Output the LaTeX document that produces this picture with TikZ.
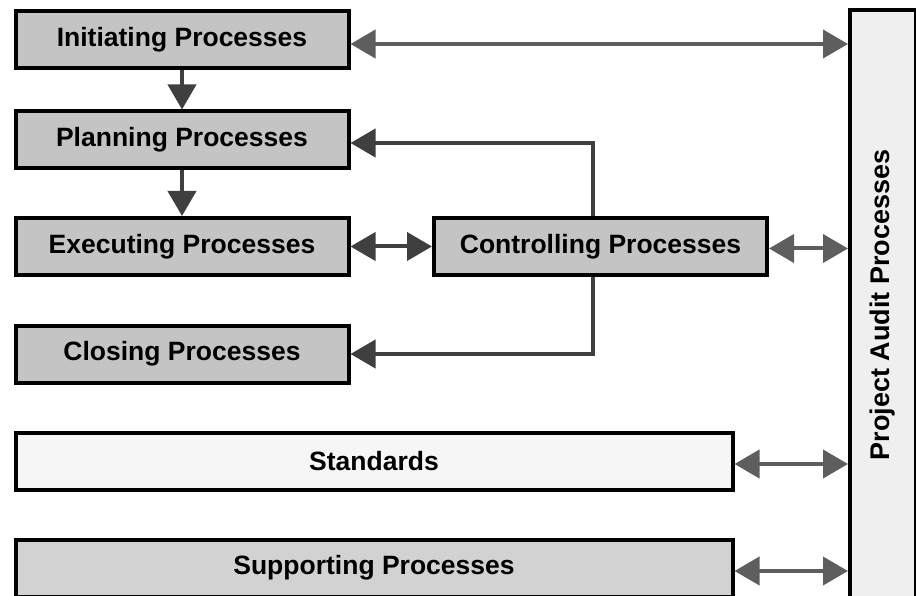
\documentclass[tikz,border=0pt]{standalone}
\usepackage{fontspec}
\setmainfont{Liberation Sans}
\usetikzlibrary{arrows.meta}
\definecolor{boxgray}{HTML}{C4C4C4}
\definecolor{supgray}{HTML}{D2D2D2}
\definecolor{stdfill}{HTML}{F6F6F6}
\definecolor{auditfill}{HTML}{EFEFEF}
\definecolor{darkarrow}{HTML}{3F3F3F}
\definecolor{grayarrow}{HTML}{5E5E5E}
\tikzset{
  procbox/.style={draw=black, line width=4pt, fill=boxgray, rectangle, inner sep=0pt,
    minimum width=333pt, minimum height=57pt, font=\fontsize{26.5}{30}\selectfont\bfseries},
  widebox/.style={procbox, minimum width=717pt},
  darklink/.style={draw=darkarrow, line width=4pt, -{Triangle[length=25pt,width=28pt]}},
  darkboth/.style={darklink, {Triangle[length=25pt,width=28pt]}-{Triangle[length=25pt,width=28pt]}},
  graylink/.style={draw=grayarrow, line width=4pt, {Triangle[length=25pt,width=28pt]}-{Triangle[length=25pt,width=28pt]}}
}
\begin{document}
\begin{tikzpicture}[x=1pt,y=-1pt]
\useasboundingbox (0,0) rectangle (916,596);

% process boxes
\node[procbox] (init) at (182,40) {Initiating Processes};
\node[procbox] (plan) at (182,140) {Planning Processes};
\node[procbox] (exec) at (182,246.5) {Executing Processes};
\node[procbox] (ctrl) at (600.5,246.5) {Controlling Processes};
\node[procbox] (close) at (182,354) {Closing Processes};
\node[widebox, fill=stdfill] (std) at (374,461) {Standards};
\node[widebox, fill=supgray] (sup) at (374,568) {Supporting Processes};

% audit column on the right
\node[procbox, fill=auditfill, minimum width=66pt, minimum height=590pt] (audit) at (883,305) {};
\node[rotate=90, font=\fontsize{27}{30}\selectfont\bfseries] (audittext) at (audit.center) {Project Audit Processes};

% flow between the process groups
\draw[darklink] (init.south) -- (plan.north);
\draw[darklink] (plan.south) -- (exec.north);
\draw[darkboth] (exec.east) -- (ctrl.west);
\draw[darklink] ([xshift=-8pt]ctrl.north) |- ([yshift=-3pt]plan.east);
\draw[darklink] ([xshift=-8pt]ctrl.south) |- (close.east);

% links to the audit column
\draw[graylink] ([yshift=-4pt]init.east) -- ([yshift=-4pt]init.east -| audit.west);
\draw[graylink] ([yshift=-2pt]ctrl.east) -- ([yshift=-2pt]ctrl.east -| audit.west);
\draw[graylink] ([yshift=-3pt]std.east) -- ([yshift=-3pt]std.east -| audit.west);
\draw[graylink] ([yshift=-3pt]sup.east) -- ([yshift=-3pt]sup.east -| audit.west);
\end{tikzpicture}
\end{document}
